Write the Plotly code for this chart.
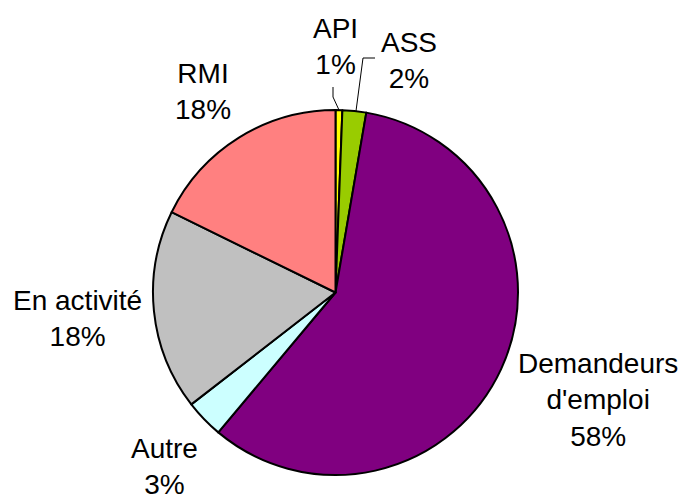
import plotly.graph_objects as go

# slices, clockwise from 12 o'clock
labels = ["API", "ASS", "Demandeurs<br>d'emploi", "Autre", "En activité", "RMI"]
values = [0.6, 2.1, 58.4, 3.4, 17.75, 17.75]
colors = ["#FFFF00", "#99CC00", "#800080", "#CCFFFF", "#C0C0C0", "#FF8080"]

W, H = 686, 495
OFF = 8  # page body margin, so positions below are screen pixels

# label block centres in screen pixels (x, y from top)
label_pos = [(335, 47), (409, 60), (598, 400), (164, 466), (77, 318), (203, 92)]


def px(x):
    return (x - OFF) / W


def py(y):
    return 1 - (y - OFF) / H


fig = go.Figure(go.Pie(
    labels=labels,
    values=values,
    marker=dict(colors=colors, line=dict(color="#000000", width=2)),
    sort=False,
    direction="clockwise",
    rotation=0,
    textinfo="none",
    hoverinfo="label+percent",
    domain=dict(x=[px(153), px(518)], y=[py(475), py(110)]),
))

total = sum(values)
for lab, val, (lx, ly) in zip(labels, values, label_pos):
    fig.add_annotation(
        x=px(lx), y=py(ly), xref="paper", yref="paper",
        text=f"{lab}<br>{round(val / total * 100):.0f}%",
        showarrow=False, xanchor="center", yanchor="middle",
        font=dict(family="Liberation Sans, Arial, sans-serif", size=28, color="#000000"),
    )


# leader lines for the two thin slices
def seg(x0, y0, x1, y1):
    fig.add_shape(type="line", xref="paper", yref="paper",
                  x0=px(x0), y0=py(y0), x1=px(x1), y1=py(y1),
                  line=dict(color="#000000", width=1))


seg(333, 87, 333, 97)
seg(333, 97, 339, 110)
seg(375, 58, 363, 58)
seg(363, 58, 356, 111)

fig.update_layout(
    width=W, height=H,
    margin=dict(l=0, r=0, t=0, b=0),
    showlegend=False,
    paper_bgcolor="#FFFFFF",
    plot_bgcolor="#FFFFFF",
)

fig.write_html("out.html")
